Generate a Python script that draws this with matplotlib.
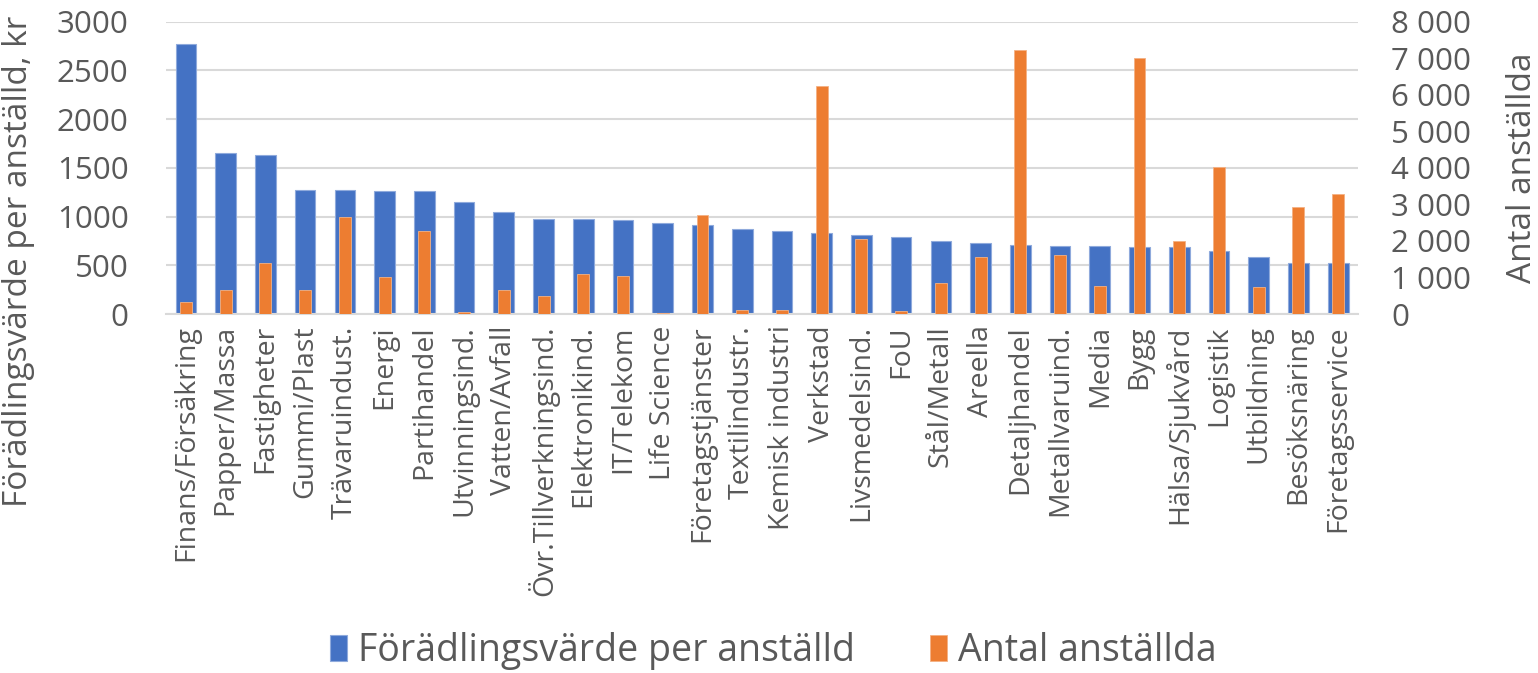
import matplotlib.pyplot as plt
import numpy as np
from matplotlib.ticker import FuncFormatter, MultipleLocator

plt.rcParams['font.family'] = ['Open Sans', 'DejaVu Sans']

branscher = ["Finans/Försäkring", "Papper/Massa", "Fastigheter", "Gummi/Plast",
             "Trävaruindust.", "Energi", "Partihandel", "Utvinningsind.",
             "Vatten/Avfall", "Övr.Tillverkningsind.", "Elektronikind.", "IT/Telekom",
             "Life Science", "Företagstjänster", "Textilindustr.", "Kemisk industri",
             "Verkstad", "Livsmedelsind.", "FoU", "Stål/Metall", "Areella",
             "Detaljhandel", "Metallvaruind.", "Media", "Bygg", "Hälsa/Sjukvård",
             "Logistik", "Utbildning", "Besöksnäring", "Företagsservice"]

# förädlingsvärde per anställd (kr), vänster axel
fv_per_anstalld = [2770, 1650, 1627, 1271, 1271, 1264, 1261, 1148, 1042, 980,
                   970, 960, 935, 918, 870, 853, 836, 812, 795, 747,
                   733, 709, 703, 700, 692, 692, 644, 590, 528, 524]

# antal anställda, höger axel
antal_anstallda = [320, 658, 1408, 650, 2658, 1005, 2274, 66, 658, 493,
                   1088, 1041, 38, 2696, 101, 101, 6238, 2047, 93, 841,
                   1562, 7216, 1608, 759, 7005, 1992, 4027, 740, 2923, 3298]

blue = "#4472C4"
orange = "#ED7D31"
grey_text = "#595959"

fig = plt.figure(figsize=(15.38, 6.73), dpi=100)
ax = fig.add_axes([0.108, 0.5334, 0.775, 0.4344])
ax2 = ax.twinx()

x = np.arange(len(branscher))
b1 = ax.bar(x, fv_per_anstalld, width=0.52, color=blue, edgecolor="#8FAADC",
            linewidth=0.8, zorder=2, label="Förädlingsvärde per anställd")
b2 = ax2.bar(x, antal_anstallda, width=0.30, color=orange, edgecolor="#F4B183",
             linewidth=0.6, zorder=2, label="Antal anställda")

ax.set_xlim(-0.5, len(branscher) - 0.5)
ax.set_ylim(0, 3000)
ax2.set_ylim(0, 8000)
ax.yaxis.set_major_locator(MultipleLocator(500))
ax2.yaxis.set_major_locator(MultipleLocator(1000))
ax2.yaxis.set_major_formatter(FuncFormatter(lambda v, p: f"{v:,.0f}".replace(",", " ")))

ax.grid(axis="y", color="#D9D9D9", linewidth=1.5, zorder=0)
ax.set_axisbelow(True)
for a in (ax, ax2):
    for s in a.spines.values():
        s.set_visible(False)
ax.spines["bottom"].set_visible(True)
ax.spines["bottom"].set_color("#D9D9D9")
ax.spines["bottom"].set_linewidth(1.5)

ax.set_xticks(x)
ax.set_xticklabels(branscher, rotation=90, fontsize=20.5, color=grey_text)
ax.tick_params(axis="x", length=0, pad=8)
ax.tick_params(axis="y", length=0, pad=27, labelsize=22.5, labelcolor=grey_text)
ax2.tick_params(axis="y", length=0, pad=24, labelsize=22.5, labelcolor=grey_text)

ax.set_ylabel("Förädlingsvärde per anställd, kr", fontsize=24, color=grey_text)
ax.yaxis.set_label_coords(-0.11, 0.18)
ax2.set_ylabel("Antal anställda", fontsize=24, color=grey_text, rotation=90)
ax2.yaxis.set_label_coords(1.124, 0.5)

fig.legend(handles=[b1, b2], loc="center", bbox_to_anchor=(0.503, 0.032), ncol=2,
           frameon=False, fontsize=27, handlelength=0.45, handleheight=0.7,
           handletextpad=0.3, columnspacing=2.0, labelcolor=grey_text)

fig.savefig("out.png", dpi=100)
